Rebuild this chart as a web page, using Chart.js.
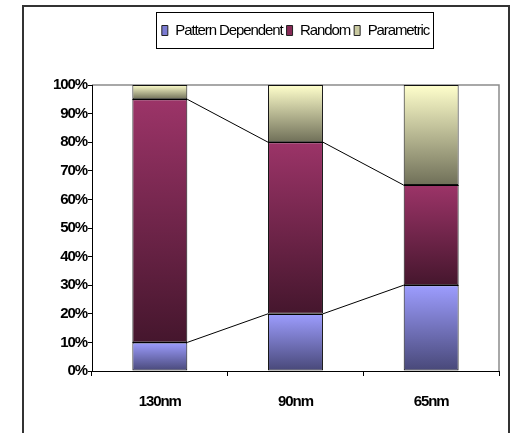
<!DOCTYPE html>
<html>
<head>
<meta charset="utf-8">
<script src="https://cdn.jsdelivr.net/npm/chart.js@4/dist/chart.umd.min.js"></script>
<style>
  html, body { margin: 0; padding: 0; background: #fff; overflow: hidden; }
  canvas { display: block; }
</style>
</head>
<body>
<canvas id="chart" width="511" height="433"></canvas>
<script>
// chart data
const categories = ['130nm', '90nm', '65nm'];
const patternDependent = [10, 20, 30];
const random = [85, 60, 35];
const parametric = [5, 20, 35];
const yTicks = [0, 10, 20, 30, 40, 50, 60, 70, 80, 90, 100];

const seriesNames = ['Pattern Dependent', 'Random', 'Parametric'];
const seriesValues = [patternDependent, random, parametric];
const gradStops = [
    ['#9d9dff', '#484878'],
    ['#9c3468', '#45162d'],
    ['#ffffcc', '#6f6f58']
];
const legendFill = ['#7b7bd2', '#862a56', '#c9c9a0'];
const FONT = "'Liberation Sans', Arial, sans-serif";
const SPACING = '-1.1px';

// vertical gradient for each stacked segment
function segmentFill(ds) {
    return (ctx) => {
        const chart = ctx.chart;
        if (ctx.type !== 'data' || !chart.chartArea) return legendFill[ds];
        let start = 0;
        for (let k = 0; k < ds; k++) start += seriesValues[k][ctx.dataIndex];
        const end = start + seriesValues[ds][ctx.dataIndex];
        const y = chart.scales.y;
        const top = y.getPixelForValue(end);
        const bot = y.getPixelForValue(start);
        const g = chart.ctx.createLinearGradient(0, top, 0, bot);
        g.addColorStop(0, gradStops[ds][0]);
        g.addColorStop(1, gradStops[ds][1]);
        return g;
    };
}

// squeeze text like the original
const tightText = {
    id: 'tightText',
    beforeUpdate(chart) { chart.ctx.letterSpacing = SPACING; },
    beforeLayout(chart) { chart.ctx.letterSpacing = SPACING; },
    beforeDraw(chart) { chart.ctx.letterSpacing = SPACING; }
};

// outer frame + plot area border
const frame = {
    id: 'frame',
    beforeDraw(chart) {
        const c = chart.ctx;
        c.save();
        c.strokeStyle = '#333';
        c.lineWidth = 2;
        c.strokeRect(23, 6, 486, 440);
        const a = chart.chartArea;
        c.strokeStyle = '#8c8c8c';
        c.lineWidth = 1.5;
        c.beginPath();
        c.moveTo(a.left, a.top);
        c.lineTo(a.right, a.top);
        c.lineTo(a.right, a.bottom);
        c.stroke();
        c.restore();
    }
};

// series lines between stacked bars, plus crisp segment boundaries
const seriesLines = {
    id: 'seriesLines',
    afterDatasetsDraw(chart) {
        const c = chart.ctx;
        c.save();
        c.strokeStyle = '#000';
        c.lineWidth = 1;
        for (let d = 0; d < 2; d++) {
            const bars = chart.getDatasetMeta(d).data;
            for (let i = 0; i < bars.length; i++) {
                const a = bars[i].getProps(['x', 'y', 'width'], true);
                const yy = Math.round(a.y) + 0.5;
                c.beginPath();
                c.moveTo(a.x - a.width / 2, yy);
                c.lineTo(a.x + a.width / 2, yy);
                c.stroke();
                if (i < bars.length - 1) {
                    const b = bars[i + 1].getProps(['x', 'y', 'width'], true);
                    c.beginPath();
                    c.moveTo(a.x + a.width / 2, a.y);
                    c.lineTo(b.x - b.width / 2, b.y);
                    c.stroke();
                }
            }
        }
        c.restore();
    }
};

// legend box border and extra gap under legend
const legendBox = {
    id: 'legendBox',
    beforeInit(chart) {
        const lg = chart.legend;
        const fit = lg.fit;
        lg.fit = function () {
            fit.call(lg);
            this.height += 37;
        };
    },
    afterDraw(chart) {
        const lg = chart.legend;
        if (!lg || !lg.legendHitBoxes.length) return;
        const hb = lg.legendHitBoxes;
        const left = Math.min(...hb.map(h => h.left)) - 6;
        const right = Math.max(...hb.map(h => h.left + h.width)) + 4;
        const c = chart.ctx;
        c.save();
        c.strokeStyle = '#000';
        c.lineWidth = 1;
        c.strokeRect(Math.round(left) + 0.5, 12.5, Math.round(right - left), 36);
        c.restore();
    }
};

new Chart(document.getElementById('chart'), {
    type: 'bar',
    data: {
        labels: categories,
        datasets: seriesNames.map((name, ds) => ({
            label: name,
            data: seriesValues[ds],
            backgroundColor: segmentFill(ds),
            borderColor: '#111',
            borderWidth: 1,
            borderSkipped: false,
            barPercentage: 0.405,
            categoryPercentage: 1
        }))
    },
    options: {
        responsive: false,
        animation: false,
        events: [],
        layout: { padding: { left: 0, right: 12, top: 19, bottom: 26 } },
        plugins: {
            tooltip: { enabled: false },
            legend: {
                position: 'top',
                fullSize: false,
                labels: {
                    boxWidth: 6,
                    boxHeight: 10,
                    padding: 4,
                    color: '#000',
                    font: { family: FONT, size: 15 },
                    generateLabels: (chart) => seriesNames.map((name, i) => ({
                        text: name,
                        fillStyle: legendFill[i],
                        strokeStyle: '#222',
                        lineWidth: 1,
                        datasetIndex: i
                    }))
                }
            }
        },
        scales: {
            x: {
                stacked: true,
                grid: {
                    offset: true,
                    drawOnChartArea: false,
                    drawTicks: true,
                    tickLength: 5,
                    color: '#000'
                },
                border: { display: true, color: '#000', width: 1 },
                ticks: {
                    padding: 17,
                    color: '#000',
                    font: { family: FONT, size: 15, weight: 'bold' }
                },
                afterFit(scale) { scale.height = 36; }
            },
            y: {
                stacked: true,
                min: 0,
                max: 100,
                afterBuildTicks(scale) { scale.ticks = yTicks.map(v => ({ value: v })); },
                grid: {
                    drawOnChartArea: false,
                    drawTicks: true,
                    tickLength: 4,
                    color: '#000'
                },
                border: { display: true, color: '#000', width: 1 },
                ticks: {
                    padding: 1,
                    color: '#000',
                    font: { family: FONT, size: 15, weight: 'bold' },
                    callback: (v) => v + '%'
                },
                afterFit(scale) { scale.width = 92; }
            }
        }
    },
    plugins: [tightText, frame, seriesLines, legendBox]
});
</script>
</body>
</html>
